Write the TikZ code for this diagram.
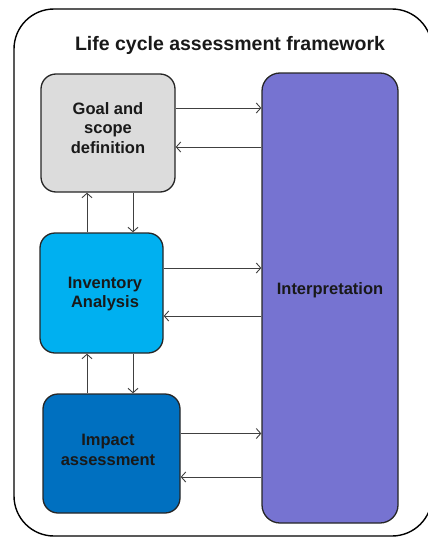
\documentclass[tikz,border=0pt]{standalone}
\usepackage{fontspec}
\setmainfont{Liberation Sans}
\usetikzlibrary{arrows.meta}

\definecolor{goalgray}{HTML}{DCDCDC}
\definecolor{invblue}{HTML}{00B0F0}
\definecolor{impblue}{HTML}{0070C0}
\definecolor{interpviolet}{HTML}{7673D1}
\definecolor{arrgray}{HTML}{404040}

\begin{document}
\begin{tikzpicture}[x=1pt, y=-1pt,
  stage/.style={draw=black!85, line width=1.3pt, rounded corners=15pt, inner sep=0pt},
  label/.style={align=center, text=black!90, font=\bfseries\fontsize{16.5}{19.5}\selectfont},
  flow/.style={draw=arrgray, line width=0.9pt, -{Straight Barb[length=4.5pt,width=10pt]}}]

\useasboundingbox (0,0) rectangle (428,538);

% outer frame
\begin{scope}
\clip (0,0) rectangle (428,538);
\draw[line width=1.4pt, rounded corners=40pt] (14,9) rectangle (432,536);
\end{scope}

\node[text=black!90, font=\bfseries\fontsize{19.5}{23}\selectfont] (title) at (230,45) {Life cycle assessment framework};

% stages
\node[stage, fill=goalgray, minimum width=134pt, minimum height=118pt] (goal) at (108,133) {};
\node[label] (goaltxt) at (108,128) {Goal and\\scope\\definition};
\node[stage, fill=invblue, minimum width=123pt, minimum height=120pt] (inv) at (101.5,293) {};
\node[label] (invtxt) at (105,294) {Inventory\\Analysis};
\node[stage, fill=impblue, minimum width=137pt, minimum height=119pt] (imp) at (111.5,453.5) {};
\node[label] (imptxt) at (108,450) {Impact\\assessment};
\node[stage, fill=interpviolet, rounded corners=18pt, minimum width=136pt, minimum height=450pt] (interp) at (330,298) {};
\node[label] (interptxt) at (330,290) {Interpretation};

% to and from interpretation
\draw[flow] ([yshift=25pt]goal.east) -- ([yshift=25pt]goal.east -| interp.west);
\draw[flow] ([yshift=-14pt]goal.east -| interp.west) -- ([yshift=-14pt]goal.east);
\draw[flow] ([yshift=25pt]inv.east) -- ([yshift=25pt]inv.east -| interp.west);
\draw[flow] ([yshift=-23pt]inv.east -| interp.west) -- ([yshift=-23pt]inv.east);
\draw[flow] ([yshift=20pt]imp.east) -- ([yshift=20pt]imp.east -| interp.west);
\draw[flow] ([yshift=-23.5pt]imp.east -| interp.west) -- ([yshift=-23.5pt]imp.east);

% between stages
\draw[flow] ([xshift=-21pt]goal.south |- inv.north) -- ([xshift=-21pt]goal.south);
\draw[flow] ([xshift=25pt]goal.south) -- ([xshift=25pt]goal.south |- inv.north);
\draw[flow] ([xshift=-21pt]goal.south |- imp.north) -- ([xshift=-21pt]goal.south |- inv.south);
\draw[flow] ([xshift=25pt]goal.south |- inv.south) -- ([xshift=25pt]goal.south |- imp.north);
\end{tikzpicture}
\end{document}
